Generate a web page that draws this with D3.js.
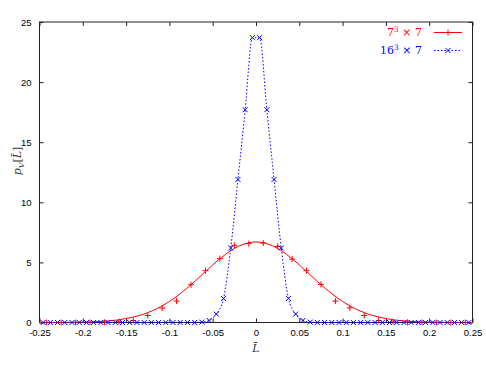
<!DOCTYPE html>
<html lang="en">
<head>
<meta charset="UTF-8">
<title>p_V distribution</title>
<script src="https://d3js.org/d3.v7.min.js"></script>
<style>
    body { margin: 0; background: #fff; }
    svg { display: block; }
    .tick text { font-family: "Liberation Sans", Arial, sans-serif; font-size: 9.5px; }
    .lab { font-family: "DejaVu Serif", "Liberation Serif", serif; }
</style>
</head>
<body>
<svg id="chart" width="486" height="370"></svg>
<script>
// x ticks and y ticks
var xTicks = [-0.25, -0.2, -0.15, -0.1, -0.05, 0, 0.05, 0.1, 0.15, 0.2, 0.25];
var yTicks = [0, 5, 10, 15, 20, 25];

// 7^3 x 7 : measured points (x at +-(2k+1)/120)
var redX = [-0.2417, -0.225, -0.2083, -0.1917, -0.175, -0.1583, -0.1417, -0.125, -0.1083, -0.0917,
            -0.075, -0.0583, -0.0417, -0.025, -0.0083, 0.0083, 0.025, 0.0417, 0.0583, 0.075,
            0.0917, 0.1083, 0.125, 0.1417, 0.1583, 0.175, 0.1917, 0.2083, 0.225, 0.2417];
var redY = [0, 0, 0, 0.01, 0.02, 0.06, 0.17, 0.58, 1.2, 1.78,
            3.14, 4.31, 5.31, 6.42, 6.56, 6.61, 6.33, 5.28, 4.31, 3.17,
            1.78, 1.22, 0.58, 0.17, 0.06, 0.02, 0.01, 0, 0, 0];

// 7^3 x 7 : fitted curve
var fitX = [-0.25, -0.24, -0.23, -0.22, -0.21, -0.2, -0.19, -0.18, -0.17, -0.16, -0.15, -0.14, -0.13,
            -0.12, -0.11, -0.1, -0.09, -0.08, -0.07, -0.06, -0.05, -0.04, -0.03, -0.02, -0.01, 0,
            0.01, 0.02, 0.03, 0.04, 0.05, 0.06, 0.07, 0.08, 0.09, 0.1, 0.11, 0.12, 0.13,
            0.14, 0.15, 0.16, 0.17, 0.18, 0.19, 0.2, 0.21, 0.22, 0.23, 0.24, 0.25];
var fitY = [0, 0, 0, 0.01, 0.02, 0.03, 0.05, 0.09, 0.14, 0.21, 0.33, 0.48, 0.69,
            0.97, 1.32, 1.75, 2.26, 2.84, 3.47, 4.13, 4.79, 5.40, 5.94, 6.35, 6.61, 6.70,
            6.61, 6.35, 5.94, 5.40, 4.79, 4.13, 3.47, 2.84, 2.26, 1.75, 1.32, 0.97, 0.69,
            0.48, 0.33, 0.21, 0.14, 0.09, 0.05, 0.03, 0.02, 0.01, 0, 0, 0];

// 16^3 x 7 : measured points (x at +-(2k+1)/240)
var blueHalf = [23.7, 17.7, 11.9, 6.2, 2.0, 0.7, 0.17, 0.03, 0, 0,
                0, 0, 0, 0, 0, 0, 0, 0, 0, 0,
                0, 0, 0, 0, 0, 0, 0, 0, 0, 0];
var blueX = [], blueY = [];
for (var k = blueHalf.length - 1; k >= 0; k--) { blueX.push(-(2 * k + 1) / 240); blueY.push(blueHalf[k]); }
for (var k = 0; k < blueHalf.length; k++) { blueX.push((2 * k + 1) / 240); blueY.push(blueHalf[k]); }

var svg = d3.select("#chart");
var L = 39.5, R = 472.5, T = 22, B = 322.5;

var x = d3.scaleLinear().domain([-0.25, 0.25]).range([L, R]);
var y = d3.scaleLinear().domain([0, 25]).range([B, T]);

// frame
svg.append("rect").attr("x", L).attr("y", T).attr("width", R - L).attr("height", B - T)
    .attr("fill", "none").attr("stroke", "#222").attr("stroke-width", 1);

var fmt = function (d) { return d === 0 ? "0" : String(d); };

// axes with inward ticks (gnuplot style)
var xb = svg.append("g").attr("transform", "translate(0," + B + ")")
    .call(d3.axisBottom(x).tickValues(xTicks).tickFormat(fmt).tickSizeInner(-4).tickSizeOuter(0).tickPadding(8));
var xt = svg.append("g").attr("transform", "translate(0," + T + ")")
    .call(d3.axisTop(x).tickValues(xTicks).tickFormat("").tickSizeInner(-4).tickSizeOuter(0));
var yl = svg.append("g").attr("transform", "translate(" + L + ",0)")
    .call(d3.axisLeft(y).tickValues(yTicks).tickSizeInner(-4).tickSizeOuter(0).tickPadding(8));
var yr = svg.append("g").attr("transform", "translate(" + R + ",0)")
    .call(d3.axisRight(y).tickValues(yTicks).tickFormat("").tickSizeInner(-4).tickSizeOuter(0));
[xb, xt, yl, yr].forEach(function (g) {
    g.select(".domain").remove();
    g.selectAll(".tick line").attr("stroke", "#222");
    g.selectAll(".tick text").attr("fill", "#000");
});
xb.selectAll(".tick text").attr("dy", "0.6em");

// axis labels
svg.append("text").attr("class", "lab").attr("x", x(0)).attr("y", 352)
    .attr("text-anchor", "middle").attr("font-size", 11).attr("font-style", "italic")
    .attr("fill", "#333").text("L\u0304");

var yLab = svg.append("text").attr("class", "lab")
    .attr("transform", "translate(21,161) rotate(-90)")
    .attr("text-anchor", "middle").attr("font-size", 11).attr("fill", "#333");
yLab.append("tspan").attr("font-style", "italic").text("p");
yLab.append("tspan").attr("font-style", "italic").attr("font-size", 8).attr("dy", 2.5).text("V");
yLab.append("tspan").attr("dy", -2.5).text("[");
yLab.append("tspan").attr("font-style", "italic").text("L\u0304");
yLab.append("tspan").text("]");

var plot = svg.append("g");

// red fit curve and points
var redLine = d3.line().x(function (d, i) { return x(fitX[i]); }).y(function (d) { return y(d); })
    .curve(d3.curveMonotoneX);
plot.append("path").attr("d", redLine(fitY)).attr("fill", "none")
    .attr("stroke", "#ff0000").attr("stroke-width", 1);

function plus(g, cx, cy, col) {
    g.append("path").attr("d", "M" + (cx - 3) + "," + cy + "H" + (cx + 3) + "M" + cx + "," + (cy - 3) + "V" + (cy + 3))
        .attr("stroke", col).attr("stroke-width", 1).attr("fill", "none");
}
function cross(g, cx, cy, col) {
    g.append("path").attr("d", "M" + (cx - 2.5) + "," + (cy - 2.5) + "L" + (cx + 2.5) + "," + (cy + 2.5) +
        "M" + (cx - 2.5) + "," + (cy + 2.5) + "L" + (cx + 2.5) + "," + (cy - 2.5))
        .attr("stroke", col).attr("stroke-width", 1).attr("fill", "none");
}

redY.forEach(function (v, i) { plus(plot, x(redX[i]), y(v), "#ff0000"); });

// blue dotted line and points
var blueLine = d3.line().x(function (d, i) { return x(blueX[i]); }).y(function (d) { return y(d); })
    .curve(d3.curveMonotoneX);
plot.append("path").attr("d", blueLine(blueY)).attr("fill", "none")
    .attr("stroke", "#0000ff").attr("stroke-width", 1).attr("stroke-dasharray", "1.5,2");
blueY.forEach(function (v, i) { cross(plot, x(blueX[i]), y(v), "#0000ff"); });

// legend
var leg = svg.append("g");
var t1 = leg.append("text").attr("class", "lab").attr("x", 422).attr("y", 36)
    .attr("text-anchor", "end").attr("font-size", 11).attr("fill", "#ff0000");
t1.append("tspan").text("7");
t1.append("tspan").attr("font-size", 7.5).attr("dy", -4).text("3");
t1.append("tspan").attr("dy", 4).text(" \u00d7 7");
leg.append("line").attr("x1", 434).attr("x2", 462).attr("y1", 32.5).attr("y2", 32.5)
    .attr("stroke", "#ff0000").attr("stroke-width", 1);
plus(leg, 448, 32.5, "#ff0000");

var t2 = leg.append("text").attr("class", "lab").attr("x", 422).attr("y", 54)
    .attr("text-anchor", "end").attr("font-size", 11).attr("fill", "#0000ff");
t2.append("tspan").text("16");
t2.append("tspan").attr("font-size", 7.5).attr("dy", -4).text("3");
t2.append("tspan").attr("dy", 4).text(" \u00d7 7");
leg.append("line").attr("x1", 434).attr("x2", 462).attr("y1", 50.5).attr("y2", 50.5)
    .attr("stroke", "#0000ff").attr("stroke-width", 1).attr("stroke-dasharray", "1.5,2");
cross(leg, 448, 50.5, "#0000ff");
</script>
</body>
</html>
